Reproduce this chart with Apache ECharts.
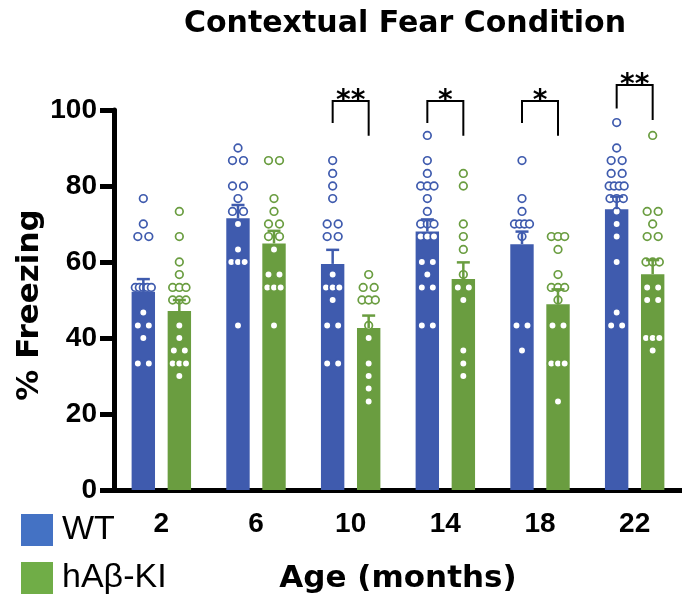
<!DOCTYPE html>
<html>
<head>
<meta charset="utf-8">
<script src="https://cdn.jsdelivr.net/npm/echarts@6/dist/echarts.min.js"></script>
<style>
  html, body { margin: 0; padding: 0; background: #fff; }
  #chart { width: 682px; height: 599px; }
</style>
</head>
<body>
<div id="chart"></div>
<script>
// ---- data ----
const categories = ['2', '6', '10', '14', '18', '22'];
const seriesNames = ['WT', 'hAβ-KI'];

const wtMean = [52.2, 71.5, 59.5, 68.0, 64.7, 73.9];
const wtSem  = [3.3, 3.5, 3.7, 3.2, 3.3, 3.3];
const kiMean = [47.1, 64.9, 42.6, 55.5, 48.9, 56.8];
const kiSem  = [2.9, 3.3, 3.3, 4.4, 3.9, 3.7];

const wtPoints = [
  [76.7, 70, 66.7, 66.7, 53.3, 53.3, 53.3, 53.3, 53.3, 46.7, 43.3, 43.3, 40, 33.3, 33.3],
  [90, 86.7, 86.7, 80, 80, 76.7, 73.3, 73.3, 70, 63.3, 60, 60, 60, 43.3],
  [86.7, 83.3, 80, 76.7, 70, 70, 66.7, 66.7, 56.7, 53.3, 53.3, 53.3, 50, 43.3, 43.3, 33.3, 33.3],
  [93.3, 86.7, 83.3, 80, 80, 80, 76.7, 73.3, 70, 70, 70, 66.7, 66.7, 66.7, 60, 60, 56.7, 53.3, 53.3, 43.3, 43.3],
  [86.7, 76.7, 73.3, 70, 70, 70, 70, 66.7, 43.3, 43.3, 36.7],
  [96.7, 90, 86.7, 86.7, 83.3, 83.3, 80, 80, 80, 80, 76.7, 76.7, 76.7, 73.3, 70, 66.7, 60, 46.7, 43.3, 43.3]
];
const kiPoints = [
  [73.3, 66.7, 60, 56.7, 53.3, 53.3, 53.3, 50, 50, 50, 43.3, 40, 36.7, 36.7, 33.3, 33.3, 33.3, 30],
  [86.7, 86.7, 76.7, 73.3, 70, 70, 66.7, 66.7, 63.3, 56.7, 56.7, 53.3, 53.3, 53.3, 43.3],
  [56.7, 53.3, 53.3, 50, 50, 50, 43.3, 40, 33.3, 30, 26.7, 23.3],
  [83.3, 80, 70, 66.7, 63.3, 56.7, 53.3, 53.3, 50, 36.7, 33.3, 30],
  [66.7, 66.7, 66.7, 63.3, 56.7, 53.3, 53.3, 53.3, 50, 43.3, 43.3, 33.3, 33.3, 33.3, 23.3],
  [93.3, 73.3, 73.3, 70, 66.7, 66.7, 60, 60, 60, 53.3, 53.3, 50, 50, 40, 40, 40, 36.7]
];

// significance annotations (y in % Freezing units)
const sigLabels   = ['', '', '**', '*', '*', '**'];
const sigTop      = [null, null, 102.4, 102.4, 102.4, 106.6];
const sigLeftEnd  = [null, null, 96.6, 96.6, 96.6, 100.4];
const sigRightEnd = [null, null, 93.2, 93.2, 93.2, 97.4];

// ---- styles ----
const WT_COLOR = '#3F5BAE';
const KI_COLOR = '#6A9D40';
const WT_LEGEND = '#4472C4';
const KI_LEGEND = '#70AD47';
const HALF_SPAN = 18;   // px from group centre to bar centre
const BOLD_FONT = "'DejaVu Sans', sans-serif";
const TICK_FONT = "'Liberation Sans', Arial, sans-serif";

function jitter(vals) {
  const counts = {}, seen = {};
  vals.forEach(v => { counts[v] = (counts[v] || 0) + 1; });
  return vals.map(v => {
    const n = counts[v];
    const k = seen[v] = (seen[v] === undefined ? 0 : seen[v] + 1);
    const s = n === 1 ? 0 : (n === 2 ? 11 : 20 / n);
    return (k - (n - 1) / 2) * s;
  });
}
function pointData(pts) {
  const out = [];
  pts.forEach((arr, i) => {
    const dx = jitter(arr);
    arr.forEach((v, j) => out.push([i, v, dx[j]]));
  });
  return out;
}
function pointRenderer(color, side) {
  return function (params, api) {
    const p = api.coord([api.value(0), api.value(1)]);
    return {
      type: 'circle',
      shape: { cx: p[0] + side * HALF_SPAN + api.value(2), cy: p[1], r: 3.8 },
      style: { fill: '#fff', stroke: color, lineWidth: 1.7 }
    };
  };
}
function errRenderer(color, side) {
  return function (params, api) {
    const p0 = api.coord([api.value(0), api.value(1)]);
    const p1 = api.coord([api.value(0), api.value(1) + api.value(2)]);
    const x = p0[0] + side * HALF_SPAN;
    return {
      type: 'group',
      children: [
        { type: 'line', shape: { x1: x, y1: p0[1], x2: x, y2: p1[1] }, style: { stroke: color, lineWidth: 2.5 } },
        { type: 'line', shape: { x1: x - 6.5, y1: p1[1], x2: x + 6.5, y2: p1[1] }, style: { stroke: color, lineWidth: 2.5 } }
      ]
    };
  };
}
function bracketRenderer(params, api) {
  const i = api.value(0);
  const pt = api.coord([i, api.value(1)]);
  const pl = api.coord([i, api.value(2)]);
  const pr = api.coord([i, api.value(3)]);
  const xl = pt[0] - HALF_SPAN, xr = pt[0] + HALF_SPAN;
  return {
    type: 'group',
    children: [
      { type: 'polyline', shape: { points: [[xl, pl[1]], [xl, pt[1]], [xr, pt[1]], [xr, pr[1]]] },
        style: { stroke: '#000', lineWidth: 2, fill: null } },
      { type: 'text', x: pt[0], y: pt[1] + 1,
        style: { text: sigLabels[i], font: "bold 28px 'DejaVu Sans'", fill: '#000', align: 'center', verticalAlign: 'middle' } }
    ]
  };
}

const bracketData = [];
sigLabels.forEach((l, i) => { if (l) bracketData.push([i, sigTop[i], sigLeftEnd[i], sigRightEnd[i]]); });

const chart = echarts.init(document.getElementById('chart'), null, { renderer: 'canvas' });
chart.setOption({
  animation: false,
  backgroundColor: '#fff',
  grid: { left: 114, top: 110, width: 572, height: 381, containLabel: false },
  graphic: [
    { type: 'text', x: 405, y: 24,
      style: { text: 'Contextual Fear Condition', font: "bold 30px 'DejaVu Sans'", fill: '#000', align: 'center', verticalAlign: 'middle' } },
    { type: 'text', x: 30, y: 305, rotation: Math.PI / 2,
      style: { text: '% Freezing', font: "bold 31px 'DejaVu Sans'", fill: '#000', align: 'center', verticalAlign: 'middle' } }
  ],
  legend: {
    orient: 'vertical', left: 21, top: 513, padding: 0,
    itemWidth: 32, itemHeight: 32, itemGap: 14,
    selectedMode: false,
    data: [
      { name: seriesNames[0], icon: 'rect', itemStyle: { color: WT_LEGEND } },
      { name: seriesNames[1], icon: 'rect', itemStyle: { color: KI_LEGEND } }
    ],
    textStyle: { fontSize: 34, fontFamily: "'Liberation Sans', Arial, sans-serif", color: '#000', padding: [0, 0, 0, 4] }
  },
  xAxis: {
    type: 'category', data: categories,
    axisLine: { lineStyle: { color: '#000', width: 5 } },
    axisTick: { alignWithLabel: true, length: 16, lineStyle: { color: '#000', width: 5 } },
    axisLabel: { margin: 20, color: '#000', fontSize: 28, fontWeight: 'bold', fontFamily: TICK_FONT },
    name: 'Age (months)', nameLocation: 'middle', nameGap: 73,
    nameTextStyle: { color: '#000', fontSize: 31, fontWeight: 'bold', fontFamily: BOLD_FONT }
  },
  yAxis: {
    type: 'value', min: 0, max: 100, interval: 20,
    axisLine: { show: true, lineStyle: { color: '#000', width: 5 } },
    axisTick: { show: true, length: 14, lineStyle: { color: '#000', width: 5 } },
    axisLabel: { margin: 17, color: '#000', fontSize: 28, fontWeight: 'bold', fontFamily: TICK_FONT },
    splitLine: { show: false }
  },
  series: [
    { name: seriesNames[0], type: 'bar', data: wtMean, barWidth: 23.4, barGap: '54%',
      itemStyle: { color: WT_COLOR } },
    { name: seriesNames[1], type: 'bar', data: kiMean, barWidth: 23.4, barGap: '54%',
      itemStyle: { color: KI_COLOR } },
    { name: seriesNames[0], type: 'custom', renderItem: pointRenderer(WT_COLOR, -1),
      data: pointData(wtPoints), encode: { x: 0, y: 1 }, z: 3 },
    { name: seriesNames[1], type: 'custom', renderItem: pointRenderer(KI_COLOR, 1),
      data: pointData(kiPoints), encode: { x: 0, y: 1 }, z: 3 },
    { name: seriesNames[0], type: 'custom', renderItem: errRenderer(WT_COLOR, -1),
      data: wtMean.map((m, i) => [i, m, wtSem[i]]), encode: { x: 0, y: 1 }, z: 4 },
    { name: seriesNames[1], type: 'custom', renderItem: errRenderer(KI_COLOR, 1),
      data: kiMean.map((m, i) => [i, m, kiSem[i]]), encode: { x: 0, y: 1 }, z: 4 },
    { name: 'sig', type: 'custom', renderItem: bracketRenderer,
      data: bracketData, encode: { x: 0, y: 1 }, z: 5 }
  ]
});
</script>
</body>
</html>
